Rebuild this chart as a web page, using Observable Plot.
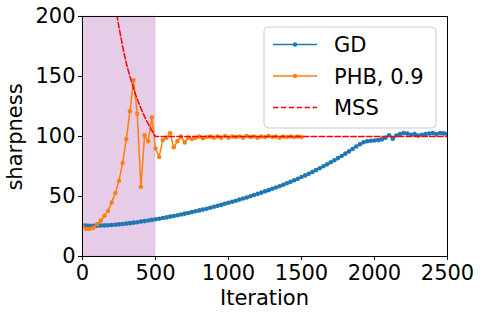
<!DOCTYPE html>
<html><head><meta charset="utf-8">
<script src="https://cdn.jsdelivr.net/npm/d3@7"></script>
<script src="https://cdn.jsdelivr.net/npm/@observablehq/plot@0.6"></script>
<style>body{margin:0;background:#fff;}</style>
</head><body><div id="chart"></div>
<script>
// ---- data ----
const gdStep = 25;
const gdValues = [26.0,25.7,25.6,25.6,25.7,25.8,25.9,26.1,26.3,26.5,26.8,27.1,27.4,27.8,28.2,28.6,29.1,29.5,30.0,30.5,
  31.0,31.5,32.1,32.6,33.2,33.8,34.4,35.0,35.7,36.3,37.0,37.7,38.4,39.1,39.8,40.6,41.4,42.2,43.0,43.9,
  44.8,45.6,46.5,47.4,48.3,49.2,50.2,51.2,52.2,53.2,54.3,55.3,56.4,57.5,58.6,59.8,61.0,62.2,63.5,64.8,
  66.2,67.6,69.0,70.5,72.0,73.6,75.2,76.8,78.5,80.2,82.0,83.8,85.7,87.6,89.6,91.7,93.6,95.2,96.0,96.4,
  96.7,97.0,97.6,99.0,101.0,98.2,100.8,102.0,102.8,102.4,101.5,102.0,100.8,101.5,102.0,102.4,102.8,102.0,102.8,102.6,101.8];
const phbStep = 25;
const phbValues = [25,23,23,24,27,30,34,38,45,53,63,78,98,121,147,119,58,101,96,116,
  90,83,97,99,103,91,96,100,95,99,98,99,100,98.5,99.5,100,99,100,99,100.5,
  99,100,99.5,100,99,100.5,99.5,100,99,100,99.5,100.5,99.5,100,99,100,99.5,100,99.5,100,99.5];
const mssIter = [225,237,250,275,300,325,350,375,400,425,450,475,500,2500];
const mssValues = [208,200,191,175,161,150,140,131,123.5,116.6,110.5,105,100,100];
const spanStart = 0, spanEnd = 500;
const xTicks = [0,500,1000,1500,2000,2500];
const yTicks = [0,50,100,150,200];
const seriesNames = ["GD","PHB, 0.9","MSS"];
const colors = {GD:"#1f77b4", PHB:"#ff7f0e", MSS:"#ff0000"};

const gd = gdValues.map((v,i)=>({x:i*gdStep, y:v}));
const phb = phbValues.map((v,i)=>({x:i*phbStep, y:v}));
const mss = mssIter.map((x,i)=>({x, y:mssValues[i]}));

const W = 482, H = 319;
const font = "DejaVu Sans";
const plot = Plot.plot({
  width: W, height: H,
  marginLeft: 82, marginRight: 35, marginTop: 16, marginBottom: 63,
  style: {fontFamily: font, fontSize: "21px", color: "#000", background: "#fff"},
  x: {domain: [0, 2500]},
  y: {domain: [0, 200]},
  marks: [
    Plot.rect([{x1:spanStart, x2:spanEnd}], {x1:"x1", x2:"x2", fill:"#800080", fillOpacity:0.2, stroke:"#800080", strokeOpacity:0.12}),
    Plot.line(gd, {x:"x", y:"y", stroke:colors.GD, strokeWidth:1.5, clip:true}),
    Plot.dot(gd, {x:"x", y:"y", fill:colors.GD, r:2.3, clip:true}),
    Plot.line(phb, {x:"x", y:"y", stroke:colors.PHB, strokeWidth:1.5, clip:true}),
    Plot.dot(phb, {x:"x", y:"y", fill:colors.PHB, r:2.2, clip:true}),
    Plot.line(mss, {x:"x", y:"y", stroke:colors.MSS, strokeWidth:1.5, strokeDasharray:"5.5,2.4", clip:true}),
    Plot.axisX({ticks:xTicks, tickSize:4, tickPadding:5, label:null, tickFormat:d=>String(d)}),
    Plot.axisY({ticks:yTicks, tickSize:4, tickPadding:3, label:null, tickFormat:d=>String(d)}),
    Plot.frame({stroke:"#000", strokeWidth:1})
  ]
});
document.getElementById("chart").appendChild(plot);

const svg = d3.select(plot);
svg.append("text").attr("x", 264.5).attr("y", 305).attr("text-anchor","middle")
  .attr("font-family", font).attr("font-size", 21).attr("fill","#000").text("Iteration");
svg.append("text").attr("transform","translate(22,137) rotate(-90)").attr("text-anchor","middle")
  .attr("font-family", font).attr("font-size", 21).attr("fill","#000").text("sharpness");

// legend
const lg = svg.append("g");
lg.append("rect").attr("x",264).attr("y",27).attr("width",172).attr("height",101).attr("rx",4)
  .attr("fill","#fff").attr("fill-opacity",0.8).attr("stroke","#cccccc").attr("stroke-width",1);
const legendItems = [
  {name: seriesNames[0], color: colors.GD, dash: null, marker: true, y: 44.5},
  {name: seriesNames[1], color: colors.PHB, dash: null, marker: true, y: 76},
  {name: seriesNames[2], color: colors.MSS, dash: "5.5,2.4", marker: false, y: 107.5}
];
for (const it of legendItems) {
  const l = lg.append("line").attr("x1",273).attr("x2",317).attr("y1",it.y).attr("y2",it.y)
    .attr("stroke", it.color).attr("stroke-width",1.5);
  if (it.dash) l.attr("stroke-dasharray", it.dash);
  if (it.marker) lg.append("circle").attr("cx",295).attr("cy",it.y).attr("r",2.2).attr("fill",it.color);
  lg.append("text").attr("x",334).attr("y",it.y+7.8).attr("text-anchor","start").attr("font-family",font).attr("font-size",21)
    .attr("fill","#000").text(it.name);
}
</script></body></html>
